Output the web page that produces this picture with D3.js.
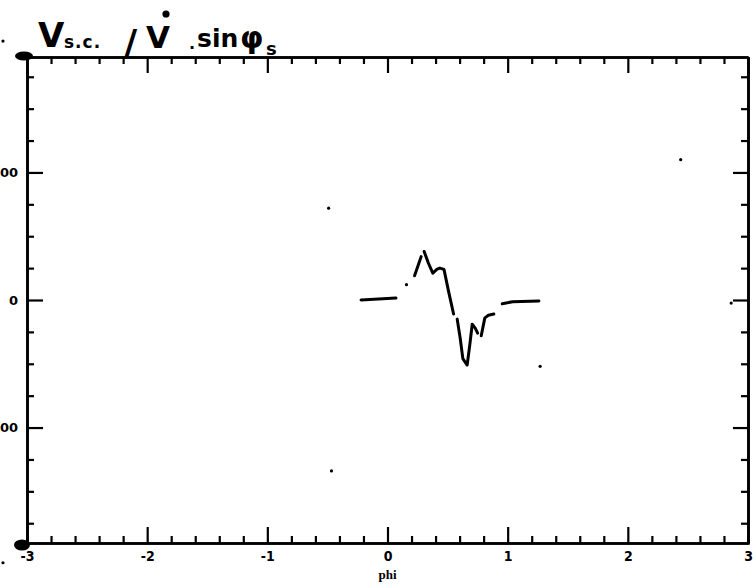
<!DOCTYPE html>
<html>
<head>
<meta charset="utf-8">
<script src="https://cdn.jsdelivr.net/npm/d3@7"></script>
<style>
  body { margin: 0; background: #fff; }
  svg { display: block; }
</style>
</head>
<body>
<div id="chart"></div>
<script>
// x tick labels (phi) and y tick labels
const xTickValues = [-3, -2, -1, 0, 1, 2, 3];
const xTickLabels = ['-3', '-2', '-1', '0', '1', '2', '3'];
const yTickValues = [-100, 0, 100];
const yTickLabels = ['-100', '0', '100'];

// traced curve, broken into the pieces the plotter left
const seg1 = [[-0.22, 0], [0.07, 1.5]];
const seg2 = [[0.225, 19], [0.28, 34]];
const seg3 = [[0.305, 38], [0.34, 29], [0.377, 21], [0.41, 24], [0.435, 25], [0.47, 24], [0.51, 6], [0.55, -11]];
const seg4 = [[0.58, -15], [0.605, -30], [0.627, -46], [0.663, -51], [0.685, -35], [0.705, -19], [0.73, -22], [0.75, -26]];
const seg5 = [[0.78, -28], [0.81, -14], [0.84, -12], [0.885, -11]];
const seg6 = [[0.955, -3], [1.04, -1.3], [1.26, -0.8]];
const segments = [seg1, seg2, seg3, seg4, seg5, seg6];

// isolated specks of ink
const specks = [[0.158, 12], [1.27, -52], [-0.49, 72], [-0.466, -134], [2.44, 110], [2.86, -2.4], [-3.2, 203], [-3.2, -206]];

const W = 754, H = 584;
const margin = { top: 57, right: 6, bottom: 41, left: 27 };

const svg = d3.select('#chart').append('svg')
  .attr('width', W)
  .attr('height', H);

const x = d3.scaleLinear().domain([-3, 3]).range([margin.left, W - margin.right]);
const y = d3.scaleLinear().domain([-190.5, 190.5]).range([H - margin.bottom, margin.top]);

const xMinor = d3.range(-3, 3.001, 0.2).filter(v => Math.abs(v - Math.round(v)) > 1e-6);
const yMinor = d3.range(-175, 176, 25).filter(v => v % 100 !== 0);

const axisFont = 'DejaVu Sans Condensed, DejaVu Sans, sans-serif';

function styleAxis(g) {
  g.select('.domain').attr('stroke', '#000').attr('stroke-width', 2.6);
  g.selectAll('.tick line').attr('stroke', '#000').attr('stroke-width', 2.2);
}

// bottom axis with labels
const gBottom = svg.append('g')
  .attr('transform', `translate(0,${y.range()[0]})`)
  .call(d3.axisBottom(x).tickValues(xTickValues).tickSize(-16).tickSizeOuter(0).tickPadding(8)
    .tickFormat((d, i) => xTickLabels[i]))
  .call(styleAxis);
gBottom.selectAll('text')
  .style('font-family', axisFont)
  .style('font-weight', 'bold')
  .style('font-size', '14px')
  .attr('fill', '#000');
svg.append('g')
  .attr('transform', `translate(0,${y.range()[0]})`)
  .call(d3.axisBottom(x).tickValues(xMinor).tickSize(-7).tickFormat(''))
  .call(styleAxis);

// top axis
svg.append('g')
  .attr('transform', `translate(0,${y.range()[1]})`)
  .call(d3.axisTop(x).tickValues(xTickValues).tickSize(-16).tickSizeOuter(0).tickFormat(''))
  .call(styleAxis);
svg.append('g')
  .attr('transform', `translate(0,${y.range()[1]})`)
  .call(d3.axisTop(x).tickValues(xMinor).tickSize(-7).tickSizeOuter(0).tickFormat(''))
  .call(styleAxis);

// left axis with labels
const gLeft = svg.append('g')
  .attr('transform', `translate(${x.range()[0]},0)`)
  .call(d3.axisLeft(y).tickValues(yTickValues).tickSize(-16).tickSizeOuter(0).tickPadding(9)
    .tickFormat((d, i) => yTickLabels[i]))
  .call(styleAxis);
gLeft.selectAll('text')
  .style('font-family', 'DejaVu Sans, sans-serif')
  .style('font-weight', 'bold')
  .style('font-size', '13px')
  .attr('fill', '#000');
svg.append('g')
  .attr('transform', `translate(${x.range()[0]},0)`)
  .call(d3.axisLeft(y).tickValues(yMinor).tickSize(-7).tickSizeOuter(0).tickFormat(''))
  .call(styleAxis);

// right axis
svg.append('g')
  .attr('transform', `translate(${x.range()[1]},0)`)
  .call(d3.axisRight(y).tickValues(yTickValues).tickSize(-15).tickSizeOuter(0).tickFormat(''))
  .call(styleAxis);
svg.append('g')
  .attr('transform', `translate(${x.range()[1]},0)`)
  .call(d3.axisRight(y).tickValues(yMinor).tickSize(-7).tickSizeOuter(0).tickFormat(''))
  .call(styleAxis);

// ink blobs at the left corners
svg.append('ellipse')
  .attr('cx', x.range()[0] - 3).attr('cy', y.range()[1] - 1)
  .attr('rx', 9).attr('ry', 4.5).attr('fill', '#000');
svg.append('ellipse')
  .attr('cx', x.range()[0] - 5).attr('cy', y.range()[0] + 2)
  .attr('rx', 8).attr('ry', 5.5).attr('fill', '#000');

// x axis title
svg.append('text')
  .attr('x', x(0))
  .attr('y', H - 5)
  .attr('text-anchor', 'middle')
  .style('font-family', 'Liberation Serif, serif')
  .style('font-weight', 'bold')
  .style('font-size', '13px')
  .text('phi');

// the curve
const line = d3.line().x(d => x(d[0])).y(d => y(d[1]));
svg.append('g')
  .selectAll('path')
  .data(segments)
  .enter().append('path')
  .attr('d', line)
  .attr('fill', 'none')
  .attr('stroke', '#000')
  .attr('stroke-width', 3)
  .attr('stroke-linecap', 'round')
  .attr('stroke-linejoin', 'round');

svg.append('g')
  .selectAll('circle')
  .data(specks)
  .enter().append('circle')
  .attr('cx', d => x(d[0]))
  .attr('cy', d => y(d[1]))
  .attr('r', 1.6)
  .attr('fill', '#000');

// handwritten title
const title = svg.append('g')
  .style('font-family', 'DejaVu Sans, sans-serif')
  .style('font-weight', 'bold')
  .attr('fill', '#000');
title.append('text').attr('x', 38).attr('y', 47).style('font-size', '34px').text('V');
title.append('text').attr('x', 64).attr('y', 48).style('font-size', '17px').style('letter-spacing', '1px').text('s.c.');
title.append('text').attr('x', 124).attr('y', 55).style('font-size', '36px').text('/');
title.append('text').attr('x', 146).attr('y', 48).style('font-size', '31px').text('V');
title.append('circle').attr('cx', 166).attr('cy', 14).attr('r', 3.6);
title.append('text').attr('x', 189).attr('y', 49).style('font-size', '16px').text('.');
title.append('text').attr('x', 197).attr('y', 47).style('font-size', '25px').text('sin');
title.append('text').attr('x', 240).attr('y', 48).style('font-size', '30px').text('φ');
title.append('text').attr('x', 266).attr('y', 55).style('font-size', '18px').text('s');
</script>
</body>
</html>
